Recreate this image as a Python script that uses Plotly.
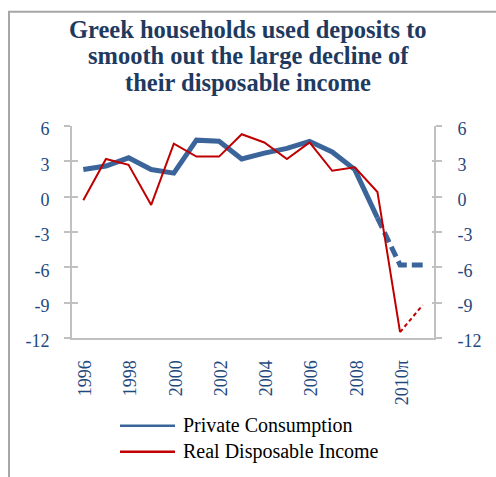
import plotly.graph_objects as go

# Annual % change, Greece
years = list(range(1996, 2012))
private_consumption = [2.3, 2.6, 3.3, 2.3, 2.0, 4.8, 4.7, 3.2, 3.7, 4.1, 4.7, 3.8, 2.3, -1.8, -5.8, -5.8]
real_disposable_income = [-0.3, 3.2, 2.7, -0.7, 4.5, 3.4, 3.4, 5.3, 4.6, 3.2, 4.6, 2.2, 2.5, 0.4, -11.5, -9.2]

# First year of the projected (dashed) part of each series
consumption_projection_start = 2009
income_projection_start = 2010

tick_years = [1996, 1998, 2000, 2002, 2004, 2006, 2008, 2010]
tick_labels = ["1996", "1998", "2000", "2002", "2004", "2006", "2008", "2010π"]
y_ticks = [-12, -9, -6, -3, 0, 3, 6]
y_tick_labels = ["-12", "-9", "-6", "-3", "0", "3", "6"]

series_names = ["Private Consumption", "Real Disposable Income"]
title_lines = ["Greek households used deposits to",
               "smooth out the large decline of",
               "their disposable income"]

BLUE = "#3b659a"
RED = "#c00000"
AXIS_GREY = "#c0c0c0"
LABEL_BLUE = "#1f497d"
TITLE_BLUE = "#1f3a5f"
SERIF = "Liberation Serif, Times New Roman, serif"

W, H = 496, 477
L, R, T, B = 72, 62, 125.5, 139
plot_w = W - L - R
plot_h = H - T - B


def split(values, start):
    solid_x = [y for y in years if y <= start]
    solid_y = [v for y, v in zip(years, values) if y <= start]
    dash_x = [y for y in years if y >= start]
    dash_y = [v for y, v in zip(years, values) if y >= start]
    return solid_x, solid_y, dash_x, dash_y


fig = go.Figure()

cx, cy, cdx, cdy = split(private_consumption, consumption_projection_start)
ix, iy, idx, idy = split(real_disposable_income, income_projection_start)

fig.add_trace(go.Scatter(x=cx, y=cy, mode="lines", name=series_names[0],
                         line=dict(color=BLUE, width=5)))
fig.add_trace(go.Scatter(x=cdx, y=cdy, mode="lines", name=series_names[0],
                         line=dict(color=BLUE, width=5, dash="11px,5px")))
fig.add_trace(go.Scatter(x=ix, y=iy, mode="lines", name=series_names[1],
                         line=dict(color=RED, width=2)))
fig.add_trace(go.Scatter(x=idx, y=idy, mode="lines", name=series_names[1],
                         line=dict(color=RED, width=2, dash="4px,3px")))
# empty traces so the mirrored / tick-only axes get drawn
for ax in ["y2", "y3", "y4"]:
    fig.add_trace(go.Scatter(x=[None], y=[None], yaxis=ax, mode="lines",
                             hoverinfo="skip"))

y_range = [y_ticks[0], y_ticks[-1]]
tick_font = dict(family=SERIF, size=18, color=LABEL_BLUE)


def y_axis(side, ticks, ticklen, labels, line, **extra):
    return dict(
        range=y_range, tickvals=y_ticks, ticktext=y_tick_labels,
        side=side, showgrid=False, zeroline=False,
        showline=line, linecolor=AXIS_GREY, linewidth=2,
        ticks=ticks, ticklen=ticklen, tickwidth=2, tickcolor=AXIS_GREY,
        showticklabels=labels, tickfont=tick_font, **extra,
    )


fig.update_layout(
    width=W, height=H, autosize=False,
    margin=dict(l=L, r=R, t=T, b=B),
    paper_bgcolor="white", plot_bgcolor="white",
    showlegend=False,
    xaxis=dict(
        range=[years[0] - 0.5, years[-1] + 0.5],
        tickvals=tick_years, ticktext=tick_labels,
        tickangle=-90, ticklabelstandoff=13, ticklabelshift=2,
        showgrid=False, zeroline=False,
        showline=True, linecolor=AXIS_GREY, linewidth=2,
        ticks="",
        tickfont=tick_font,
    ),
    yaxis=y_axis("left", "outside", 6, True, True,
                 ticklabelstandoff=11, ticklabelshift=3),
    yaxis2=y_axis("right", "outside", 6, True, True, overlaying="y",
                  ticklabelstandoff=12, ticklabelshift=3),
    yaxis3=y_axis("left", "inside", 6, False, False, overlaying="y"),
    yaxis4=y_axis("right", "inside", 2, False, False, overlaying="y"),
)


def px_x(px):
    return (px - L) / plot_w


def px_y(py):
    return (H - B - py) / plot_h


# chart frame
fig.add_shape(type="rect", xref="paper", yref="paper",
              x0=px_x(9), x1=px_x(W + 10), y0=px_y(H + 10), y1=px_y(11),
              line=dict(color="#a6a6a6", width=2), fillcolor="rgba(0,0,0,0)", layer="below")

# title, one line per annotation for tight line spacing
for line, py in zip(title_lines, [28.5, 55.3, 82]):
    fig.add_annotation(xref="paper", yref="paper", x=px_x(248), y=px_y(py),
                       xanchor="center", yanchor="middle", showarrow=False,
                       text="<b>" + line + "</b>",
                       font=dict(family=SERIF, size=24.5, color=TITLE_BLUE))

# legend
for name, color, py in [(series_names[0], BLUE, 426), (series_names[1], RED, 452)]:
    fig.add_shape(type="line", xref="paper", yref="paper",
                  x0=px_x(120), x1=px_x(175), y0=px_y(py), y1=px_y(py),
                  line=dict(color=color, width=2.5))
    fig.add_annotation(xref="paper", yref="paper", x=px_x(181), y=px_y(py),
                       xanchor="left", yanchor="middle", showarrow=False,
                       text=name, font=dict(family=SERIF, size=20, color="#000000"))

fig.write_html("out.html")
